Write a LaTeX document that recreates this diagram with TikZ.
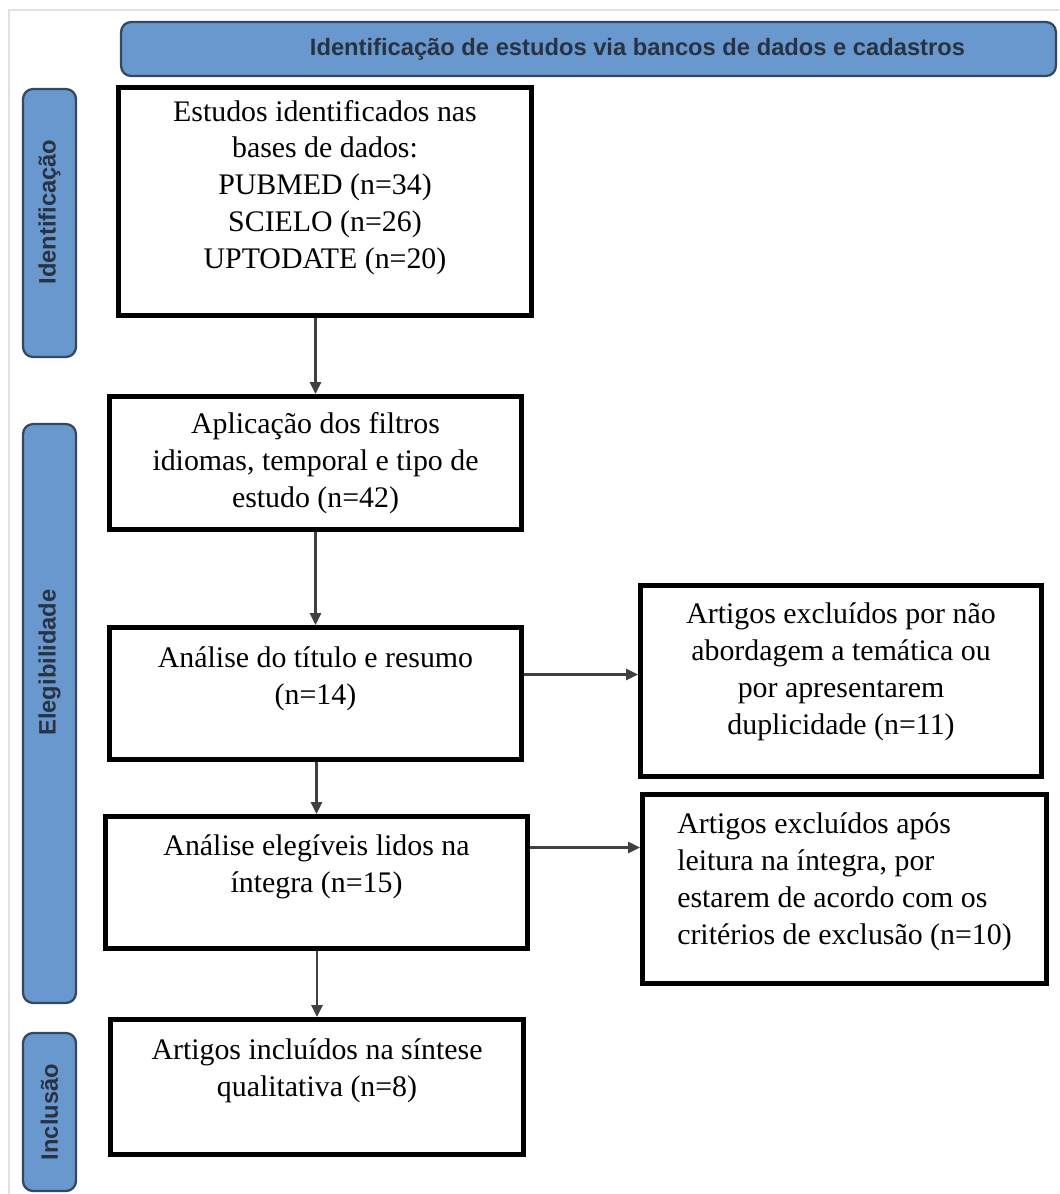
\documentclass[tikz,border=0pt]{standalone}
\usepackage{fontspec}
\setmainfont{Liberation Serif}
\newfontfamily\barfont{Liberation Sans}
\usetikzlibrary{arrows.meta}
\definecolor{barfill}{RGB}{104,152,206}
\definecolor{barline}{RGB}{52,72,96}
\definecolor{bartext}{RGB}{40,50,66}
\definecolor{framegray}{RGB}{222,226,232}
\begin{document}
\begin{tikzpicture}[x=0.02cm, y=-0.02cm,
        box/.style={draw, line width=2.8pt, align=center, inner sep=2pt,
            font=\fontsize{17}{21}\selectfont},
        phase/.style={draw=barline, line width=1.3pt, fill=barfill, rounded corners=0.2cm,
            text=bartext, font=\barfont\bfseries\fontsize{13.5}{16}\selectfont},
        arrow/.style={draw=black!75, line width=1.4pt, -{Triangle[length=0.24cm, width=0.22cm]}}]
        \useasboundingbox (0, 0) rectangle (1059, 1194);
        \draw [framegray, line width=0.8pt] (9, 1194) to (9, 10) to (1059, 10);
        \node (h) [phase, minimum width=18.7cm, minimum height=1.08cm] at (588.5, 49) {\hspace*{1.96cm}Identificação de estudos via bancos de dados e cadastros};
        \node (p1) [phase, rotate=90, minimum width=5.36cm, minimum height=1.06cm] at (49.5, 223) {\hspace*{0.44cm}Identificação};
        \node (p2) [phase, rotate=90, minimum width=11.58cm, minimum height=1.06cm] at (49.5, 713.5) {\hspace*{2.04cm}Elegibilidade};
        \node (p3) [phase, rotate=90, minimum width=3.16cm, minimum height=1.06cm] at (49.5, 1112) {Inclusão};
        \node (0) [box, minimum width=8.26cm, minimum height=4.56cm, text depth=19.5pt] at (325, 201.5) {Estudos identificados nas\\bases de dados:\\PUBMED (n=34)\\SCIELO (n=26)\\UPTODATE (n=20)};
        \node (1) [box, minimum width=8.24cm, minimum height=2.66cm] at (315.5, 463) {Aplicação dos filtros\\idiomas, temporal e tipo de\\estudo (n=42)};
        \node (2) [box, minimum width=8.24cm, minimum height=2.64cm, text depth=20.6pt] at (315.5, 693.5) {Análise do título e resumo\\(n=14)};
        \node (3) [box, minimum width=8.02cm, minimum height=3.82cm, text depth=13.8pt] at (841, 681) {Artigos excluídos por não\\abordagem a temática ou\\por apresentarem\\duplicidade (n=11)};
        \node (4) [box, minimum width=8.44cm, minimum height=2.64cm, text depth=21.7pt] at (316.5, 882.5) {Análise elegíveis lidos na\\íntegra (n=15)};
        \node (5) [box, align=left, minimum width=8.08cm, minimum height=3.78cm, text depth=11.6pt] at (844.5, 889) {Artigos excluídos após\\leitura na íntegra, por\\estarem de acordo com os\\critérios de exclusão (n=10)};
        \node (6) [box, minimum width=8.26cm, minimum height=2.70cm, text depth=21.7pt] at (317, 1087) {Artigos incluídos na síntese\\qualitativa (n=8)};
        \draw [arrow] (0.south -| 1.north) to (1.north);
        \draw [arrow] (1.south) to (2.north);
        \draw [arrow] ([yshift=0.38cm]2.east) to ([yshift=0.38cm]2.east -| 3.west);
        \draw [arrow] (2.south -| 4.north) to (4.north);
        \draw [arrow] ([yshift=0.70cm]4.east) to ([yshift=0.70cm]4.east -| 5.west);
        \draw [arrow] (4.south -| 6.north) to (6.north);
\end{tikzpicture}
\end{document}
